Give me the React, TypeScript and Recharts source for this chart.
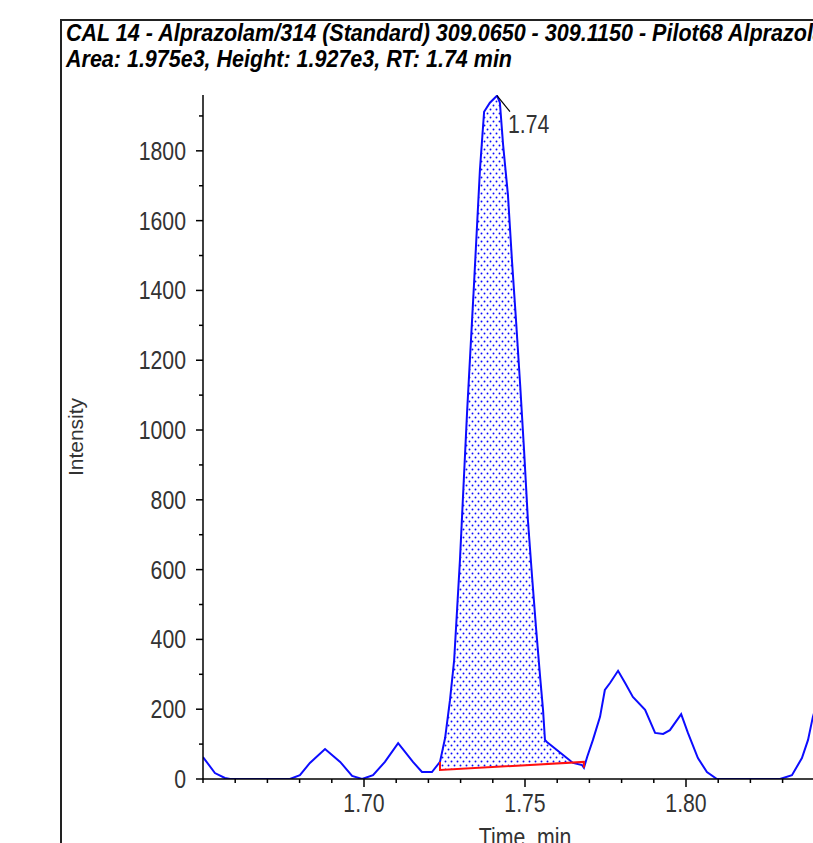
import React from 'react';
import { ComposedChart, Line, Area, XAxis, YAxis, ReferenceDot } from 'recharts';

// Trace vertices: time (min) and intensity
const times = [
  1.65, 1.6537, 1.6568, 1.6584, 1.677, 1.6801, 1.6832, 1.6879, 1.6926, 1.6963,
  1.6994, 1.7028, 1.7065, 1.7106, 1.7152, 1.718, 1.7211, 1.7236, 1.7252, 1.7267,
  1.728, 1.7289, 1.7298, 1.732, 1.7342, 1.736, 1.7373, 1.7391, 1.7413, 1.7422,
  1.7432, 1.7447, 1.746, 1.7472, 1.7485, 1.7497, 1.7509, 1.7522, 1.7534, 1.7547,
  1.7556, 1.7562, 1.7568, 1.7599, 1.763, 1.7649, 1.7677, 1.7683, 1.7693, 1.7711,
  1.7733, 1.7748, 1.7764, 1.7789, 1.7811, 1.7835, 1.7873, 1.7904, 1.7929, 1.795,
  1.7985, 1.8006, 1.8037, 1.8065, 1.8096, 1.8292, 1.8329, 1.836, 1.8379, 1.8394,
  1.842,
];
const intensity = [
  63, 17, 3, 0, 0, 11, 46, 86, 49, 9,
  0, 11, 49, 103, 49, 20, 20, 49, 118, 226,
  341, 484, 628, 1049, 1424, 1745, 1912, 1938, 1958, 1938,
  1817, 1674, 1479, 1316, 1129, 943, 742, 579, 436, 292,
  198, 112, 106, 83, 60, 46, 40, 32, 63, 112,
  178, 255, 275, 310, 275, 235, 198, 132, 129, 140,
  186, 132, 60, 20, 0, 0, 11, 60, 112, 178,
  255,
];

// integration window and its baseline end values
const peakStart = 1.7236;
const peakEnd = 1.7683;
const baseStart = 26;
const baseEnd = 49;

const apexTime = 1.7413;
const apexValue = 1958;
const apexLabel = '1.74';

const yTicks = [0, 100, 200, 300, 400, 500, 600, 700, 800, 900, 1000, 1100, 1200, 1300, 1400, 1500, 1600, 1700, 1800, 1900];
const xTicks = [1.65, 1.66, 1.67, 1.68, 1.69, 1.7, 1.71, 1.72, 1.73, 1.74, 1.75, 1.76, 1.77, 1.78, 1.79, 1.8, 1.81, 1.82, 1.83, 1.84, 1.85];
const xLabels = ['1.70', '1.75', '1.80'];

const titleLine1 = 'CAL 14 - Alprazolam/314 (Standard) 309.0650 - 309.1150 - Pilot68 Alprazolam';
const titleLine2 = 'Area: 1.975e3, Height: 1.927e3, RT: 1.74 min';

const TRACE = '#0c0cff';
const FONT = "'Liberation Sans', Arial, sans-serif";
const SQUEEZE = 0.85; // the original labels use a narrow face

const signal = times.map((t, i) => ({ t, v: intensity[i] }));

const baseAt = (t: number) =>
  baseStart + ((t - peakStart) / (peakEnd - peakStart)) * (baseEnd - baseStart);

const peakBand = signal
  .filter((d) => d.t >= peakStart && d.t <= peakEnd)
  .map((d) => ({ t: d.t, band: [baseAt(d.t), d.v] }));

const startSignal = signal.find((d) => d.t === peakStart)!.v;
const endSignal = signal.find((d) => d.t === peakEnd)!.v;
const baselineLine = [
  { t: peakStart, r: startSignal },
  { t: peakStart, r: baseStart },
  { t: peakEnd, r: baseEnd },
  { t: peakEnd, r: endSignal },
];

const NarrowText = ({ x, y, anchor = 'start', size = 25, children }: any) => (
  <text
    transform={`translate(${x},${y}) scale(${SQUEEZE},1)`}
    textAnchor={anchor}
    fontFamily={FONT}
    fontSize={size}
    fill="#333"
  >
    {children}
  </text>
);

const YTick = ({ x, y, payload }: any) => {
  const major = payload.value % 200 === 0;
  return (
    <g>
      <line x1={x - (major ? 7 : 4)} x2={x} y1={y} y2={y} stroke="#000" strokeWidth={1.5} />
      {major && (
        <NarrowText x={x - 17} y={y + 9} anchor="end">
          {payload.value}
        </NarrowText>
      )}
    </g>
  );
};

const XTick = ({ x, y, payload }: any) => {
  const label = xLabels.find((l) => Math.abs(Number(l) - payload.value) < 1e-6);
  return (
    <g>
      <line x1={x} x2={x} y1={y} y2={y + (label ? 8 : 4)} stroke="#000" strokeWidth={1.5} />
      {label && (
        <NarrowText x={x} y={y + 33} anchor="middle">
          {label}
        </NarrowText>
      )}
    </g>
  );
};

const ApexMark = ({ cx, cy }: any) => (
  <g>
    <line x1={cx} y1={cy} x2={cx + 13} y2={cy + 16} stroke="#000" strokeWidth={1.2} />
    <NarrowText x={cx + 11} y={cy + 37}>
      {apexLabel}
    </NarrowText>
  </g>
);

export default function App() {
  return (
    <div style={{ position: 'fixed', left: 0, top: 0, width: 813, height: 843, overflow: 'hidden', background: '#fff' }}>
      <svg width={0} height={0} style={{ position: 'absolute' }}>
        <defs>
          <pattern id="dots" width={6} height={8} patternUnits="userSpaceOnUse">
            <rect width={6} height={8} fill="#fff" />
            <circle cx={1.5} cy={1.5} r={0.95} fill={TRACE} />
            <circle cx={4.5} cy={5.5} r={0.95} fill={TRACE} />
          </pattern>
        </defs>
      </svg>
      <div
        style={{
          position: 'absolute',
          left: 60,
          top: 19,
          width: 900,
          height: 900,
          borderLeft: '2px solid #222',
          borderTop: '2px solid #222',
        }}
      />
      <svg width={813} height={80} style={{ position: 'absolute', left: 0, top: 0 }}>
        <text
          x={66}
          y={41}
          textLength={778}
          lengthAdjust="spacingAndGlyphs"
          fontFamily={FONT}
          fontWeight="bold"
          fontStyle="italic"
          fontSize={24}
          fill="#000"
        >
          {titleLine1}
        </text>
        <text
          x={66}
          y={67}
          textLength={446}
          lengthAdjust="spacingAndGlyphs"
          fontFamily={FONT}
          fontWeight="bold"
          fontStyle="italic"
          fontSize={24}
          fill="#000"
        >
          {titleLine2}
        </text>
      </svg>
      <div style={{ position: 'absolute', left: 0, top: 0 }}>
        <ComposedChart
          width={900}
          height={900}
          data={signal}
          margin={{ top: 95, right: 53, bottom: 61, left: 143 }}
        >
          <XAxis
            dataKey="t"
            type="number"
            domain={[1.65, 1.85]}
            ticks={xTicks}
            interval={0}
            tickSize={0}
            tickMargin={0}
            tick={<XTick />}
            height={60}
            stroke="#000"
            strokeWidth={1.5}
            allowDataOverflow
            label={{
              content: ({ viewBox }: any) => (
                <NarrowText x={viewBox.x + viewBox.width / 2} y={viewBox.y + 67} anchor="middle">
                  Time, min
                </NarrowText>
              ),
            }}
          />
          <YAxis
            type="number"
            domain={[0, 1960]}
            ticks={yTicks}
            interval={0}
            tickSize={0}
            tickMargin={0}
            tick={<YTick />}
            width={60}
            stroke="#000"
            strokeWidth={1.5}
            allowDataOverflow
            label={{
              content: ({ viewBox }: any) => {
                const cx = 75;
                const cy = viewBox.y + viewBox.height / 2;
                return (
                  <text
                    x={cx}
                    y={cy}
                    transform={`rotate(-90 ${cx} ${cy})`}
                    textAnchor="middle"
                    dominantBaseline="central"
                    fontFamily={FONT}
                    fontSize={21}
                    fill="#333"
                  >
                    Intensity
                  </text>
                );
              },
            }}
          />
          <Area
            data={peakBand}
            dataKey="band"
            type="linear"
            fill="url(#dots)"
            fillOpacity={1}
            stroke="none"
            isAnimationActive={false}
          />
          <Line
            dataKey="v"
            type="linear"
            stroke={TRACE}
            strokeWidth={2}
            dot={false}
            isAnimationActive={false}
          />
          <Line
            data={baselineLine}
            dataKey="r"
            type="linear"
            stroke="#ff1010"
            strokeWidth={2}
            dot={false}
            isAnimationActive={false}
          />
          <ReferenceDot x={apexTime} y={apexValue} r={0} shape={<ApexMark />} />
        </ComposedChart>
      </div>
    </div>
  );
}
